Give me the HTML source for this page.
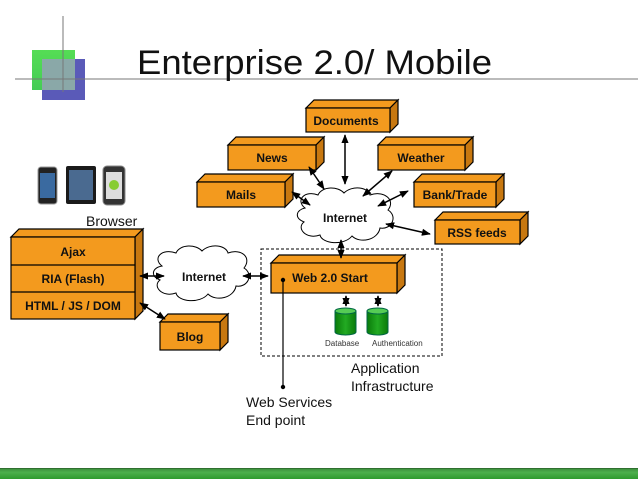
<!DOCTYPE html>
<html><head><meta charset="utf-8"><style>
body{margin:0;background:#fff;width:638px;height:479px;overflow:hidden}
svg{display:block}
text{font-family:"Liberation Sans",Arial,sans-serif}
</style></head><body>
<svg width="638" height="479" viewBox="0 0 638 479" xmlns="http://www.w3.org/2000/svg">
<defs>
<marker id="a" viewBox="0 0 10 10" refX="9" refY="5" markerWidth="6" markerHeight="6" orient="auto-start-reverse"><path d="M0,1 L10,5 L0,9 z" fill="#000"/></marker>
<linearGradient id="cyl" x1="0" y1="0" x2="1" y2="0"><stop offset="0" stop-color="#0a7a0a"/><stop offset=".5" stop-color="#22aa22"/><stop offset="1" stop-color="#0a7a0a"/></linearGradient>
<linearGradient id="bar" x1="0" y1="0" x2="0" y2="1"><stop offset="0" stop-color="#3a8a3a"/><stop offset=".4" stop-color="#4caf4c"/><stop offset="1" stop-color="#2e9a2e"/></linearGradient>
<linearGradient id="lg" x1="0" y1="0" x2="0" y2="1"><stop offset="0" stop-color="#55dd55"/><stop offset="1" stop-color="#44cc55"/></linearGradient>
</defs>
<rect x="32" y="50" width="43" height="40" fill="url(#lg)"/>
<rect x="42" y="59" width="43" height="41" fill="#5a5ab8"/>
<rect x="42" y="59" width="33" height="31" fill="#8aa8a8"/>
<line x1="63" y1="16" x2="63" y2="92" stroke="#777" stroke-width="1"/>
<line x1="15" y1="79" x2="638" y2="79" stroke="#777" stroke-width="1"/>
<text x="137" y="74" font-size="34" fill="#111" textLength="355" lengthAdjust="spacingAndGlyphs">Enterprise 2.0/ Mobile</text>
<rect x="38" y="167" width="19" height="37" rx="3" fill="#222" stroke="#999"/><rect x="40" y="173" width="15" height="25" fill="#3a6aa0"/>
<rect x="66" y="166" width="30" height="38" rx="2" fill="#1a1a1a"/><rect x="69" y="170" width="24" height="30" fill="#4a6a90"/>
<rect x="103" y="166" width="22" height="39" rx="4" fill="#333" stroke="#888"/><rect x="106" y="172" width="16" height="27" fill="#ddd"/><circle cx="114" cy="185" r="5" fill="#8c3"/>
<text x="86" y="226" font-size="14" fill="#111">Browser</text>
<rect x="261" y="249" width="181" height="107" fill="none" stroke="#000" stroke-dasharray="3,2"/>
<g stroke="#000" stroke-width="1.2" fill="#f39a1e">
<polygon points="306,108 314,100 398,100 390,108"/><polygon points="390,108 398,100 398,124 390,132" fill="#c87810"/><rect x="306" y="108" width="84" height="24"/>
<polygon points="228,145 236,137 324,137 316,145"/><polygon points="316,145 324,137 324,162 316,170" fill="#c87810"/><rect x="228" y="145" width="88" height="25"/>
<polygon points="378,145 386,137 473,137 465,145"/><polygon points="465,145 473,137 473,162 465,170" fill="#c87810"/><rect x="378" y="145" width="87" height="25"/>
<polygon points="197,182 205,174 293,174 285,182"/><polygon points="285,182 293,174 293,199 285,207" fill="#c87810"/><rect x="197" y="182" width="88" height="25"/>
<polygon points="414,182 422,174 504,174 496,182"/><polygon points="496,182 504,174 504,199 496,207" fill="#c87810"/><rect x="414" y="182" width="82" height="25"/>
<polygon points="435,220 443,212 528,212 520,220"/><polygon points="520,220 528,212 528,236 520,244" fill="#c87810"/><rect x="435" y="220" width="85" height="24"/>
<polygon points="271,263 279,255 405,255 397,263"/><polygon points="397,263 405,255 405,285 397,293" fill="#c87810"/><rect x="271" y="263" width="126" height="30"/>
<polygon points="160,322 168,314 228,314 220,322"/><polygon points="220,322 228,314 228,342 220,350" fill="#c87810"/><rect x="160" y="322" width="60" height="28"/>
<polygon points="11,237 19,229 143,229 135,237"/><polygon points="135,237 143,229 143,311 135,319" fill="#c87810"/><rect x="11" y="237" width="124" height="82"/>
<line x1="11" y1="265" x2="135" y2="265"/><line x1="11" y1="292" x2="135" y2="292"/>
</g>
<g font-size="12" font-weight="bold" fill="#111" text-anchor="middle">
<text x="346" y="125">Documents</text>
<text x="272" y="162">News</text>
<text x="421" y="162">Weather</text>
<text x="241" y="199">Mails</text>
<text x="455" y="199">Bank/Trade</text>
<text x="477" y="237">RSS feeds</text>
<text x="330" y="282">Web 2.0 Start</text>
<text x="190" y="341">Blog</text>
<text x="73" y="256">Ajax</text>
<text x="73" y="283">RIA (Flash)</text>
<text x="73" y="310">HTML / JS / DOM</text>
</g>
<g fill="#fff" stroke="#000" stroke-width="1">
<path d="M305,208 C295,200 305,190 318,195 C322,186 338,186 344,193 C352,185 368,187 370,195 C384,190 396,200 388,210 C398,216 392,230 380,228 C378,240 360,244 352,236 C344,246 322,244 320,235 C306,240 296,228 304,222 C294,218 296,210 305,208 Z"/>
<path d="M162,266 C152,258 162,248 176,253 C180,244 196,244 202,251 C210,243 226,245 228,253 C242,248 252,258 244,268 C254,274 248,288 236,286 C234,298 216,302 208,294 C200,304 178,302 176,293 C162,298 152,286 160,280 C150,276 152,268 162,266 Z"/>
</g>
<g font-size="12" font-weight="bold" fill="#111" text-anchor="middle">
<text x="345" y="222">Internet</text>
<text x="204" y="281">Internet</text>
</g>
<g stroke="#064" stroke-width="1">
<path d="M335,311 L335,332 A10.5,3 0 0 0 356,332 L356,311 Z" fill="url(#cyl)"/><ellipse cx="345.5" cy="311" rx="10.5" ry="3" fill="#5c5"/>
<path d="M367,311 L367,332 A10.5,3 0 0 0 388,332 L388,311 Z" fill="url(#cyl)"/><ellipse cx="377.5" cy="311" rx="10.5" ry="3" fill="#5c5"/>
</g>
<text x="325" y="346" font-size="8" fill="#333">Database</text>
<text x="372" y="346" font-size="8" fill="#333">Authentication</text>
<g stroke="#000" stroke-width="1.5" fill="none" marker-start="url(#a)" marker-end="url(#a)">
<line x1="345" y1="135" x2="345" y2="184"/>
<line x1="309" y1="167" x2="324" y2="189"/>
<line x1="392" y1="171" x2="363" y2="196"/>
<line x1="292" y1="192" x2="310" y2="205"/>
<line x1="408" y1="191" x2="378" y2="206"/>
<line x1="386" y1="224" x2="430" y2="234"/>
<line x1="341" y1="240" x2="341" y2="258"/>
<line x1="140" y1="276" x2="164" y2="276"/>
<line x1="243" y1="276" x2="268" y2="276"/>
<line x1="140" y1="303" x2="165" y2="319"/>
<line x1="346" y1="296" x2="346" y2="306"/>
<line x1="378" y1="296" x2="378" y2="306"/>
</g>
<line x1="283" y1="280" x2="283" y2="387" stroke="#000" stroke-width="1.2"/>
<circle cx="283" cy="280" r="2.2" fill="#000"/><circle cx="283" cy="387" r="2.2" fill="#000"/>
<g font-size="14" fill="#111">
<text x="351" y="373">Application</text>
<text x="351" y="391">Infrastructure</text>
<text x="246" y="407">Web Services</text>
<text x="246" y="425">End point</text>
</g>
<rect x="0" y="468" width="638" height="11" fill="url(#bar)"/>
<line x1="0" y1="468.5" x2="638" y2="468.5" stroke="#2f6f2f"/>
</svg>
</body></html>
